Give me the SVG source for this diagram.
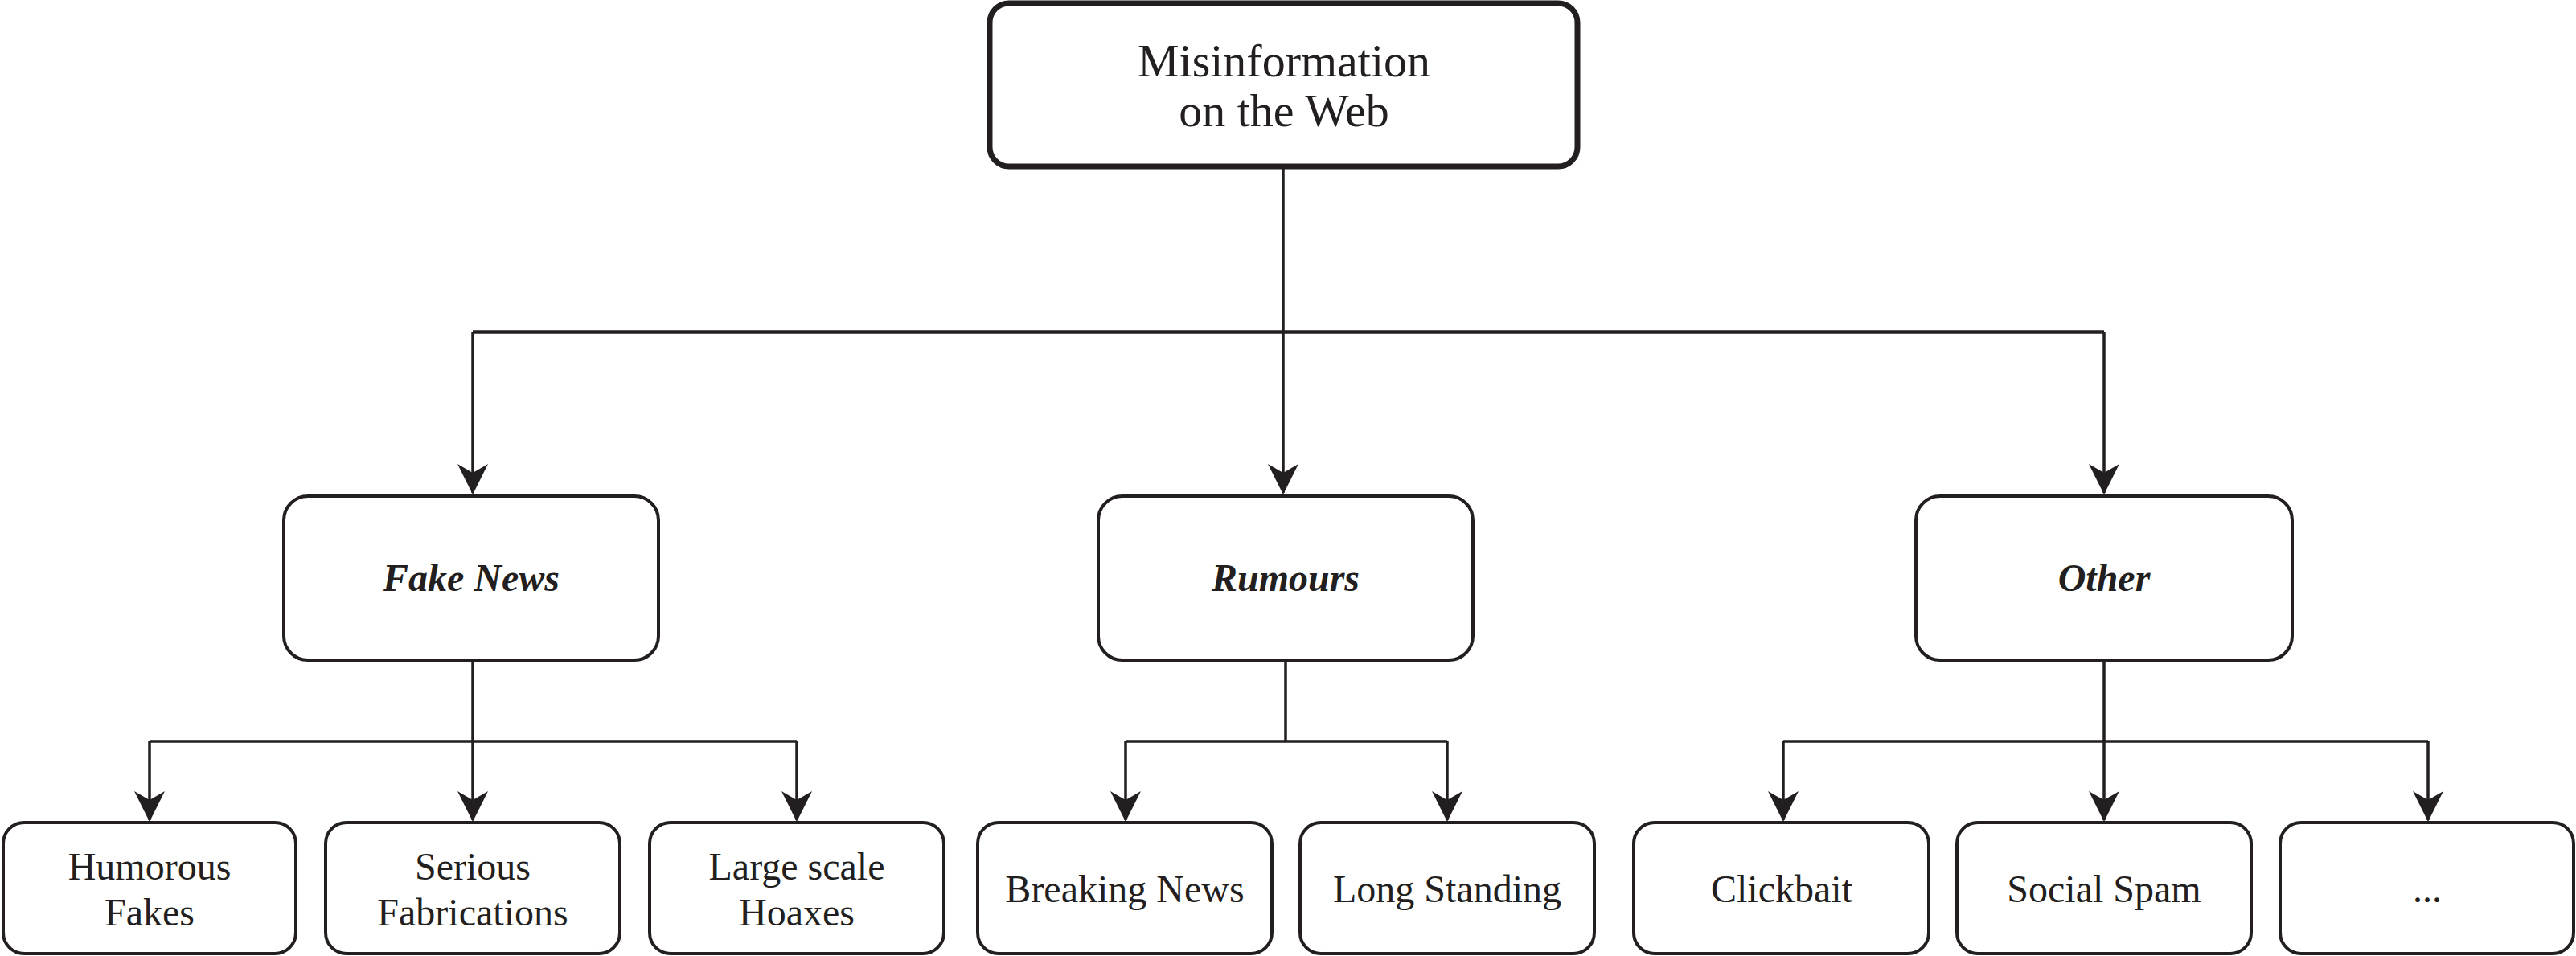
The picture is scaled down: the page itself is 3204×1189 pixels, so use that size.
<svg xmlns="http://www.w3.org/2000/svg" width="3204" height="1189" viewBox="0 0 3204 1189">
<style>
.box{fill:#fff;stroke:#231f20;stroke-width:4}
.root{fill:#fff;stroke:#231f20;stroke-width:7}
.t{font-family:"Liberation Serif","Times New Roman",serif;fill:#231f20;text-anchor:middle}
.s{font-size:48px}
.m{font-size:48px;font-weight:bold;font-style:italic}
.r{font-size:58px}
.c{fill:none;stroke:#231f20;stroke-width:3.5}
</style>
<defs>
<marker id="arr" markerUnits="userSpaceOnUse" markerWidth="38" markerHeight="40" viewBox="0 0 38 40" refX="36" refY="20" orient="auto">
<path d="M0,1 L38,20 L0,39 L11,20 Z" fill="#231f20"/>
</marker>
</defs>
<rect width="3204" height="1189" fill="#fff"/>
<g id="connectors">
<path class="c" d="M1596,207 V413"/>
<path class="c" d="M588,413 H2617"/>
<path class="c" d="M588,413 V613" marker-end="url(#arr)"/>
<path class="c" d="M1596,413 V613" marker-end="url(#arr)"/>
<path class="c" d="M2617,413 V613" marker-end="url(#arr)"/>
<path class="c" d="M588,821 V922"/>
<path class="c" d="M186,922 H991"/>
<path class="c" d="M186,922 V1020" marker-end="url(#arr)"/>
<path class="c" d="M588,922 V1020" marker-end="url(#arr)"/>
<path class="c" d="M991,922 V1020" marker-end="url(#arr)"/>
<path class="c" d="M1599,821 V922"/>
<path class="c" d="M1400,922 H1800"/>
<path class="c" d="M1400,922 V1020" marker-end="url(#arr)"/>
<path class="c" d="M1800,922 V1020" marker-end="url(#arr)"/>
<path class="c" d="M2617,821 V922"/>
<path class="c" d="M2218,922 H3020"/>
<path class="c" d="M2218,922 V1020" marker-end="url(#arr)"/>
<path class="c" d="M2617,922 V1020" marker-end="url(#arr)"/>
<path class="c" d="M3020,922 V1020" marker-end="url(#arr)"/>
</g>
<g id="root">
<rect class="root" x="1231" y="4" width="731" height="203" rx="24"/>
<text class="t r" x="1597" y="95">Misinformation</text>
<text class="t r" x="1597" y="157">on the Web</text>
</g>
<g id="fake-news">
<rect class="box" x="353" y="617" width="466" height="204" rx="30"/>
<text class="t m" x="586" y="735">Fake News</text>
</g>
<g id="rumours">
<rect class="box" x="1366" y="617" width="466" height="204" rx="30"/>
<text class="t m" x="1599" y="735">Rumours</text>
</g>
<g id="other">
<rect class="box" x="2383" y="617" width="468" height="204" rx="30"/>
<text class="t m" x="2617" y="735">Other</text>
</g>
<g id="humorous-fakes">
<rect class="box" x="4" y="1023" width="364" height="163" rx="26"/>
<text class="t s" x="186" y="1094">Humorous</text>
<text class="t s" x="186" y="1151">Fakes</text>
</g>
<g id="serious-fabrications">
<rect class="box" x="405" y="1023" width="366" height="163" rx="26"/>
<text class="t s" x="588" y="1094">Serious</text>
<text class="t s" x="588" y="1151">Fabrications</text>
</g>
<g id="large-scale-hoaxes">
<rect class="box" x="808" y="1023" width="366" height="163" rx="26"/>
<text class="t s" x="991" y="1094">Large scale</text>
<text class="t s" x="991" y="1151">Hoaxes</text>
</g>
<g id="breaking-news">
<rect class="box" x="1216" y="1023" width="366" height="163" rx="26"/>
<text class="t s" x="1399" y="1122">Breaking News</text>
</g>
<g id="long-standing">
<rect class="box" x="1617" y="1023" width="366" height="163" rx="26"/>
<text class="t s" x="1800" y="1122">Long Standing</text>
</g>
<g id="clickbait">
<rect class="box" x="2032" y="1023" width="367" height="163" rx="26"/>
<text class="t s" x="2216" y="1122">Clickbait</text>
</g>
<g id="social-spam">
<rect class="box" x="2434" y="1023" width="366" height="163" rx="26"/>
<text class="t s" x="2617" y="1122">Social Spam</text>
</g>
<g id="more">
<rect class="box" x="2836" y="1023" width="365" height="163" rx="26"/>
<text class="t s" x="3019" y="1122">...</text>
</g>
</svg>
